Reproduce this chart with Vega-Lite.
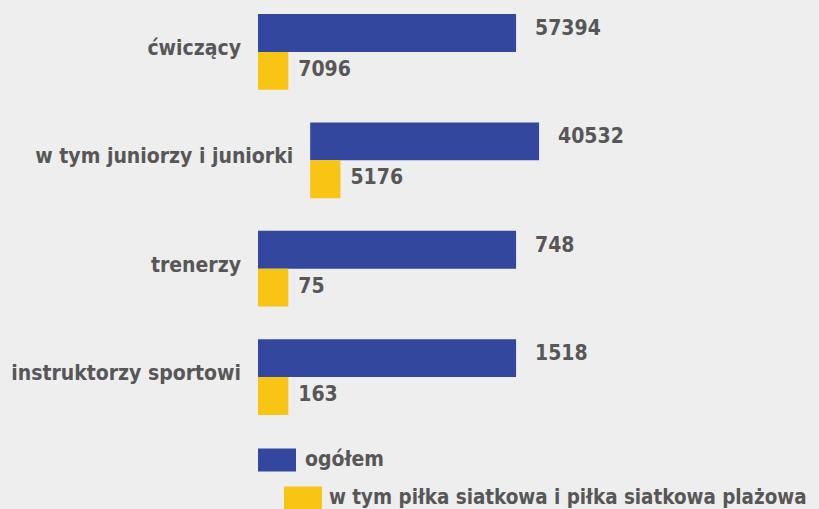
{
  "$schema": "https://vega.github.io/schema/vega-lite/v6.json",
  "autosize": "none",
  "width": 561,
  "height": 401,
  "padding": {"left": 258, "top": 14, "right": 0, "bottom": 94},
  "background": "#eeeeef",
  "config": {"view": {"stroke": null}, "font": "DejaVu Sans Condensed, Roboto, sans-serif"},
  "data": {
    "values": [
      {"kategoria": "ćwiczący", "poziom": 0, "seria": "ogółem", "wartosc": 57394},
      {"kategoria": "ćwiczący", "poziom": 0, "seria": "w tym piłka siatkowa i piłka siatkowa plażowa", "wartosc": 7096},
      {"kategoria": "w tym juniorzy i juniorki", "poziom": 1, "seria": "ogółem", "wartosc": 40532},
      {"kategoria": "w tym juniorzy i juniorki", "poziom": 1, "seria": "w tym piłka siatkowa i piłka siatkowa plażowa", "wartosc": 5176},
      {"kategoria": "trenerzy", "poziom": 0, "seria": "ogółem", "wartosc": 748},
      {"kategoria": "trenerzy", "poziom": 0, "seria": "w tym piłka siatkowa i piłka siatkowa plażowa", "wartosc": 75},
      {"kategoria": "instruktorzy sportowi", "poziom": 0, "seria": "ogółem", "wartosc": 1518},
      {"kategoria": "instruktorzy sportowi", "poziom": 0, "seria": "w tym piłka siatkowa i piłka siatkowa plażowa", "wartosc": 163}
    ]
  },
  "transform": [
    {"calculate": "datum.poziom * 9.3", "as": "start"},
    {"calculate": "datum.seria == 'ogółem' ? 46 + datum.poziom * 4.1 : datum.start + 5.4", "as": "koniec"}
  ],
  "encoding": {
    "y": {"field": "kategoria", "type": "nominal", "sort": null, "axis": null,
      "scale": {"paddingInner": 0.3, "paddingOuter": 0}},
    "yOffset": {"field": "seria", "type": "nominal",
      "scale": {"domain": ["ogółem", "w tym piłka siatkowa i piłka siatkowa plażowa"], "paddingInner": 0, "paddingOuter": 0}}
  },
  "layer": [
    {
      "transform": [{"filter": "datum.seria == 'ogółem'"}],
      "mark": {"type": "bar", "cornerRadius": 0},
      "encoding": {
        "x": {"field": "start", "type": "quantitative", "scale": {"domain": [0, 100]}, "axis": null},
        "x2": {"field": "koniec"},
        "color": {"field": "seria", "type": "nominal",
          "scale": {"domain": ["ogółem"], "range": ["#34479e"]},
          "legend": {"orient": "none", "legendX": 0, "legendY": 427, "title": null, "padding": 0,
            "symbolType": "M-1,-0.605H1V0.605H-1Z", "symbolSize": 1444, "symbolStrokeWidth": 0, "symbolOpacity": 1,
            "labelFont": "DejaVu Sans Condensed, Roboto, sans-serif", "labelFontWeight": "bold", "labelFontSize": 21,
            "labelColor": "#575757", "labelOffset": 9, "labelLimit": 0}}
      }
    },
    {
      "transform": [{"filter": "datum.seria != 'ogółem'"}],
      "mark": {"type": "bar", "cornerRadius": 0},
      "encoding": {
        "x": {"field": "start", "type": "quantitative"},
        "x2": {"field": "koniec"},
        "color": {"field": "seria", "type": "nominal",
          "scale": {"domain": ["w tym piłka siatkowa i piłka siatkowa plażowa"], "range": ["#f9c514"]},
          "legend": {"orient": "none", "legendX": 26, "legendY": 465, "title": null, "padding": 0,
            "symbolType": "M-1,-0.605H1V0.605H-1Z", "symbolSize": 1444, "symbolStrokeWidth": 0, "symbolOpacity": 1,
            "labelFont": "DejaVu Sans Condensed, Roboto, sans-serif", "labelFontWeight": "bold", "labelFontSize": 20.4,
            "labelColor": "#575757", "labelOffset": 7, "labelLimit": 0}}
      }
    },
    {
      "transform": [{"filter": "datum.seria == 'ogółem'"}],
      "mark": {"type": "text", "align": "left", "baseline": "middle", "dx": 19, "dy": -4,
        "fontWeight": "bold", "fontSize": 21, "color": "#575757"},
      "encoding": {
        "x": {"field": "koniec", "type": "quantitative"},
        "text": {"field": "wartosc", "type": "quantitative", "format": "d"}
      }
    },
    {
      "transform": [{"filter": "datum.seria != 'ogółem'"}],
      "mark": {"type": "text", "align": "left", "baseline": "middle", "dx": 10, "dy": -1,
        "fontWeight": "bold", "fontSize": 21, "color": "#575757"},
      "encoding": {
        "x": {"field": "koniec", "type": "quantitative"},
        "text": {"field": "wartosc", "type": "quantitative", "format": "d"}
      }
    },
    {
      "transform": [{"filter": "datum.seria == 'ogółem'"}],
      "mark": {"type": "text", "align": "right", "baseline": "middle", "dx": -17, "dy": -3,
        "fontWeight": "bold", "fontSize": 21, "color": "#575757"},
      "encoding": {
        "x": {"field": "start", "type": "quantitative"},
        "y": {"field": "kategoria", "type": "nominal", "sort": null, "axis": null},
        "yOffset": null,
        "text": {"field": "kategoria", "type": "nominal"}
      }
    }
  ],
  "resolve": {"scale": {"color": "independent"}, "legend": {"color": "independent"}}
}
